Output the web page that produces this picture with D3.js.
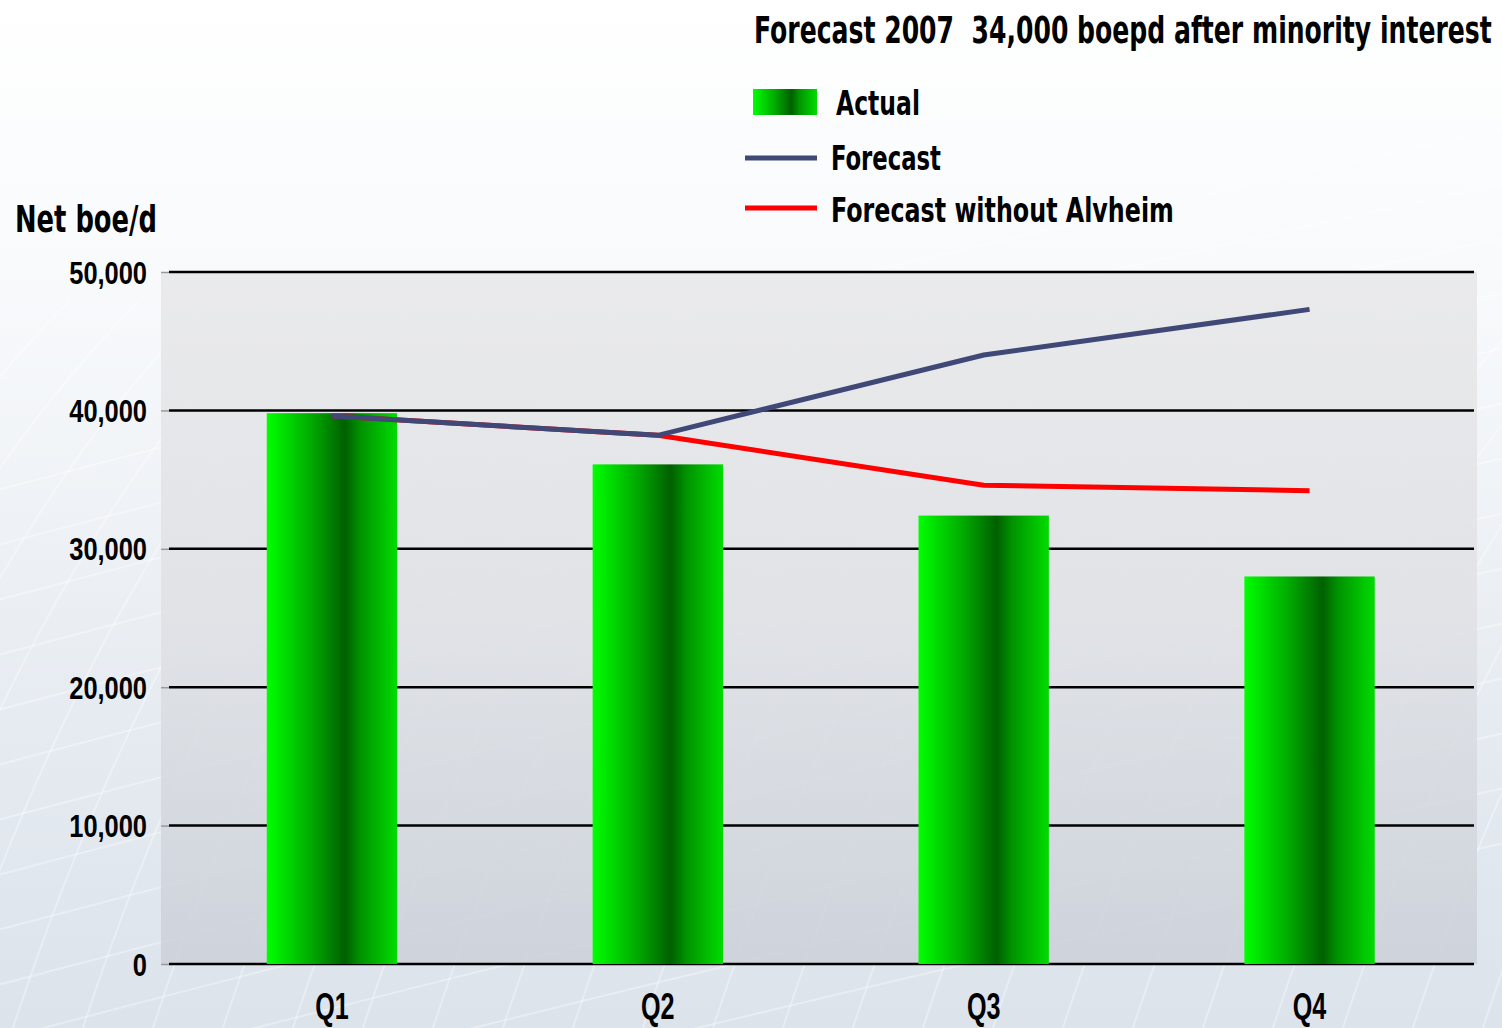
<!DOCTYPE html>
<html>
<head>
<meta charset="utf-8">
<script src="https://cdn.jsdelivr.net/npm/d3@7"></script>
<style>
  html, body { margin: 0; padding: 0; background: #fff; }
  svg { display: block; }
  text { font-family: "Liberation Sans Narrow", "DejaVu Sans Condensed", "DejaVu Sans", sans-serif; font-weight: bold; fill: #000; }
</style>
</head>
<body>
<div id="chart"></div>
<script>
// ━━━━━━━━━━━━━━━━━━━━━━━━━━━━━━━━━━━━━━━━━━━━━━━━━━━━━━━━━━━━
// Data //////////////////////////////////////////////////////////
// ━━━━━━━━━━━━━━━━━━━━━━━━━━━━━━━━━━━━━━━━━━━━━━━━━━━━━━━━━━━━

const quarters = ['Q1', 'Q2', 'Q3', 'Q4'];
const actual = [39800, 36100, 32400, 28000];
const forecast = [39600, 38200, 44000, 47300];
const forecastNoAlvheim = [39600, 38200, 34600, 34200];
const yTicks = [0, 10000, 20000, 30000, 40000, 50000];

const titleText = 'Forecast 2007  34,000 boepd after minority interest';
const yTitle = 'Net boe/d';
const legendLabels = ['Actual', 'Forecast', 'Forecast without Alvheim'];

// ━━━━━━━━━━━━━━━━━━━━━━━━━━━━━━━━━━━━━━━━━━━━━━━━━━━━━━━━━━━━
// SVG setup /////////////////////////////////////////////////////
// ━━━━━━━━━━━━━━━━━━━━━━━━━━━━━━━━━━━━━━━━━━━━━━━━━━━━━━━━━━━━

const width = 1502, height = 1028;
const plot = { left: 161, right: 1477, top: 272, bottom: 964 };
const colors = { forecast: '#3f4876', noAlvheim: '#ff0000' };

// no narrow font installed -> squeeze glyphs to the condensed look of the original
function condense(sel, k) {
  sel.each(function () {
    const w = this.getComputedTextLength();
    d3.select(this).attr('textLength', w * k).attr('lengthAdjust', 'spacingAndGlyphs');
  });
}

// left-anchored text squeezed to a given width with a transform
function fitText(parent, str, x, y, size, targetW) {
  const g = parent.append('g');
  const t = g.append('text').attr('font-size', size).style('white-space', 'pre').text(str);
  const k = targetW / t.node().getComputedTextLength();
  g.attr('transform', `translate(${x},${y}) scale(${k},1)`);
  return t;
}

const svg = d3.select('#chart').append('svg')
  .attr('viewBox', [0, 0, width, height])
  .attr('width', width)
  .attr('height', height);

const defs = svg.append('defs');

const bg = defs.append('linearGradient').attr('id', 'bg').attr('x1', 0).attr('y1', 0).attr('x2', 0).attr('y2', 1);
bg.selectAll('stop')
  .data([{ o: 0, c: '#ffffff' }, { o: 0.3, c: '#f7f9fb' }, { o: 0.7, c: '#e6ebf1' }, { o: 1, c: '#dce3eb' }])
  .join('stop').attr('offset', d => d.o).attr('stop-color', d => d.c);

const plotBg = defs.append('linearGradient').attr('id', 'plotbg').attr('x1', 0).attr('y1', 0).attr('x2', 0).attr('y2', 1);
plotBg.selectAll('stop')
  .data([{ o: 0, c: '#e8e8e9' }, { o: 0.5, c: '#dfe1e5' }, { o: 1, c: '#ccd1d9' }])
  .join('stop').attr('offset', d => d.o).attr('stop-color', d => d.c);

const barGrad = defs.append('linearGradient').attr('id', 'bargrad').attr('x1', 0).attr('y1', 0).attr('x2', 1).attr('y2', 0);
barGrad.selectAll('stop')
  .data([{ o: 0, c: '#00ff00' }, { o: 0.35, c: '#00a800' }, { o: 0.6, c: '#006000' }, { o: 0.72, c: '#009400' }, { o: 1, c: '#00dc00' }])
  .join('stop').attr('offset', d => d.o).attr('stop-color', d => d.c);

// background + faint mesh
svg.append('rect').attr('width', width).attr('height', height).attr('fill', 'url(#bg)');

const mesh = svg.append('g').attr('fill', 'none').attr('stroke', '#ffffff').attr('stroke-opacity', 0.35).attr('stroke-width', 2);
d3.range(-8, 30).forEach(i => {
  const x0 = i * 70;
  mesh.append('path').attr('d', `M${x0},${height + 40} Q${x0 + 160},${560} ${x0 + 420},${300}`);
});
d3.range(0, 14).forEach(i => {
  const y0 = 380 + i * 55;
  mesh.append('path').attr('d', `M-40,${y0 + 120} Q${width / 2},${y0 - 90} ${width + 40},${y0 - 260}`);
});

svg.append('rect')
  .attr('x', plot.left).attr('y', plot.top)
  .attr('width', plot.right - plot.left).attr('height', plot.bottom - plot.top)
  .attr('fill', 'url(#plotbg)').attr('fill-opacity', 0.88);

// ━━━━━━━━━━━━━━━━━━━━━━━━━━━━━━━━━━━━━━━━━━━━━━━━━━━━━━━━━━━━
// Scales ////////////////////////////////////////////////////////
// ━━━━━━━━━━━━━━━━━━━━━━━━━━━━━━━━━━━━━━━━━━━━━━━━━━━━━━━━━━━━

const gridLeft = 169, gridRight = 1474;

const x = d3.scaleBand()
  .domain(quarters)
  .range([gridLeft, gridRight - 1.5])
  .paddingInner(0.6)
  .paddingOuter(0.3);

const y = d3.scaleLinear().domain([0, 50000]).range([plot.bottom, plot.top]);

// gridlines
svg.append('g')
  .selectAll('line')
  .data(yTicks)
  .join('line')
  .attr('x1', gridLeft).attr('x2', gridRight)
  .attr('y1', d => y(d)).attr('y2', d => y(d))
  .attr('stroke', '#000').attr('stroke-width', 2.5);

// y axis
const yAxis = svg.append('g')
  .attr('transform', `translate(${gridLeft},0)`)
  .call(d3.axisLeft(y).tickValues(yTicks).tickSize(8).tickPadding(14).tickFormat(d3.format(',')));
yAxis.select('.domain').remove();
yAxis.selectAll('.tick line').attr('stroke', '#9a9a9a').attr('stroke-width', 1.5);
yAxis.selectAll('.tick text')
  .attr('font-size', 31).attr('dy', '0.36em')
  .style('font-family', 'inherit').style('font-weight', 'bold').attr('fill', '#000')
  .call(condense, 0.82);

// bars
svg.append('g')
  .selectAll('rect')
  .data(actual)
  .join('rect')
  .attr('x', (d, i) => x(quarters[i]))
  .attr('y', d => y(d))
  .attr('width', x.bandwidth())
  .attr('height', d => y(0) - y(d))
  .attr('fill', 'url(#bargrad)');

// lines
const line = d3.line()
  .x((d, i) => x(quarters[i]) + x.bandwidth() / 2)
  .y(d => y(d));

svg.append('path').datum(forecastNoAlvheim)
  .attr('d', line).attr('fill', 'none')
  .attr('stroke', colors.noAlvheim).attr('stroke-width', 5);

svg.append('path').datum(forecast)
  .attr('d', line).attr('fill', 'none')
  .attr('stroke', colors.forecast).attr('stroke-width', 5);

// x labels
const xAxis = svg.append('g')
  .attr('transform', `translate(0,${plot.bottom})`)
  .call(d3.axisBottom(x).tickSize(0).tickPadding(42));
xAxis.select('.domain').remove();
xAxis.selectAll('.tick text')
  .attr('font-size', 37).attr('dy', '0.36em')
  .style('font-family', 'inherit').style('font-weight', 'bold').attr('fill', '#000')
  .call(condense, 0.68);

// ━━━━━━━━━━━━━━━━━━━━━━━━━━━━━━━━━━━━━━━━━━━━━━━━━━━━━━━━━━━━
// Titles + legend ///////////////////////////////////////////////
// ━━━━━━━━━━━━━━━━━━━━━━━━━━━━━━━━━━━━━━━━━━━━━━━━━━━━━━━━━━━━

fitText(svg, titleText, 754, 43, 38, 738);
fitText(svg, yTitle, 15, 232, 38, 142);

const legend = svg.append('g');
// Actual
legend.append('rect').attr('x', 753).attr('y', 89).attr('width', 64).attr('height', 26).attr('fill', 'url(#bargrad)');
fitText(legend, legendLabels[0], 836, 115, 34, 84);
// Forecast
legend.append('line').attr('x1', 745).attr('x2', 817).attr('y1', 158).attr('y2', 158)
  .attr('stroke', colors.forecast).attr('stroke-width', 5);
fitText(legend, legendLabels[1], 831, 170, 34, 110);
// Forecast without Alvheim
legend.append('line').attr('x1', 745).attr('x2', 817).attr('y1', 208).attr('y2', 208)
  .attr('stroke', colors.noAlvheim).attr('stroke-width', 5);
fitText(legend, legendLabels[2], 831, 222, 34, 343);
</script>
</body>
</html>
